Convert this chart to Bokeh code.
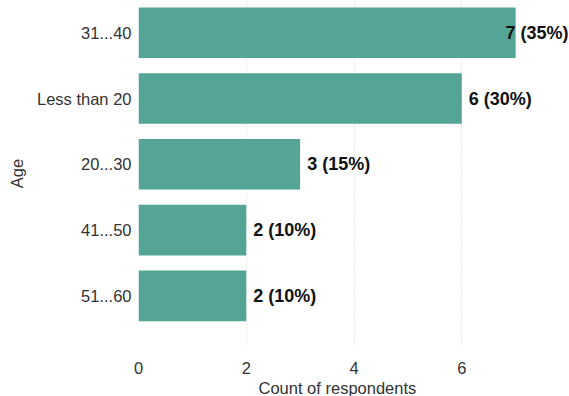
from bokeh.plotting import figure
from bokeh.models import ColumnDataSource, Range1d, FixedTicker, Title
from bokeh.core.properties import value
from bokeh.embed import file_html
from bokeh.resources import INLINE

# Age groups, bottom to top
categories = ["51...60", "41...50", "20...30", "Less than 20", "31...40"]
counts = [2, 2, 3, 6, 7]
percents = [10, 10, 15, 30, 35]
x_ticks = [0, 2, 4, 6]

X_MAX = 8
BAR_COLOR = "#55a597"
FONT = "Liberation Sans"
TEXT_COLOR = "#333333"

positions = list(range(len(categories)))
labels = [f"{c} ({p}%)" for c, p in zip(counts, percents)]

p = figure(
    width=569, height=396,
    x_range=Range1d(0, X_MAX),
    y_range=Range1d(-0.77, len(categories) - 0.51),
    output_backend="svg", toolbar_location=None,
    min_border_left=138, min_border_right=0, min_border_top=0, min_border_bottom=0,
)
p.outline_line_color = None
p.background_fill_color = "white"
p.border_fill_color = "white"

src = ColumnDataSource(dict(y=positions, count=counts, label=labels))
p.hbar(y="y", left=0, right="count", height=0.77, source=src,
       fill_color=BAR_COLOR, line_color=None)

# value labels: just past the bar end, or pulled back inside the frame if too long
est_width = 76 / (431 / X_MAX)  # approx label width in data units
lx, la, lo = [], [], []
for c in counts:
    if c + 0.13 + est_width > X_MAX:
        lx.append(X_MAX); la.append("right"); lo.append(-1)
    else:
        lx.append(c); la.append("left"); lo.append(7)
lsrc = ColumnDataSource(dict(x=lx, y=positions, text=labels, align=la, off=lo))
p.text(x="x", y="y", text="text", source=lsrc, text_align="align", x_offset="off",
       text_baseline="middle", text_font=value(FONT), text_font_style="bold",
       text_font_size="18px", text_color="#111111")

# axes
p.xaxis.ticker = FixedTicker(ticks=x_ticks)
p.yaxis.ticker = FixedTicker(ticks=positions)
p.yaxis.major_label_overrides = {i: c for i, c in zip(positions, categories)}
for ax in (p.xaxis[0], p.yaxis[0]):
    ax.axis_line_color = None
    ax.major_tick_line_color = None
    ax.minor_tick_line_color = None
    ax.major_label_text_font = FONT
    ax.major_label_text_font_size = "16.5px"
    ax.major_label_text_color = TEXT_COLOR
    ax.axis_label_text_font = FONT
    ax.axis_label_text_font_size = "16.5px"
    ax.axis_label_text_font_style = "normal"
    ax.axis_label_text_color = TEXT_COLOR
p.yaxis.axis_label = "Age"
p.xaxis.major_label_standoff = 9
p.yaxis.major_label_standoff = 1
p.yaxis.axis_label_standoff = 8

# x-axis title, set a little left of the frame centre
p.add_layout(Title(text="Count of respondents", align="left", offset=120,
                   text_font=FONT, text_font_size="16.5px", text_font_style="normal",
                   text_color=TEXT_COLOR, standoff=0), "below")

p.ygrid.grid_line_color = None
p.xgrid.grid_line_color = "#d9d9d9"
p.xgrid.grid_line_dash = "1 2"
p.xgrid.grid_line_width = 1

open("out.html", "w").write(file_html(p, INLINE))
